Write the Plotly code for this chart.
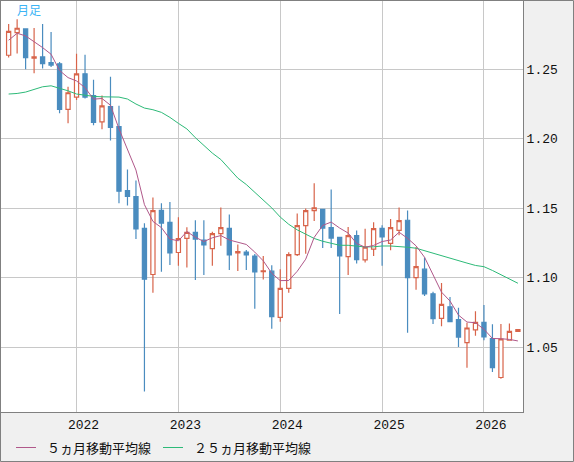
import plotly.graph_objects as go

# monthly candles, May 2021 - May 2026
months = [
    "2021/05", "2021/06", "2021/07", "2021/08", "2021/09", "2021/10", "2021/11", "2021/12",
    "2022/01", "2022/02", "2022/03", "2022/04", "2022/05", "2022/06", "2022/07", "2022/08",
    "2022/09", "2022/10", "2022/11", "2022/12",
    "2023/01", "2023/02", "2023/03", "2023/04", "2023/05", "2023/06", "2023/07", "2023/08",
    "2023/09", "2023/10", "2023/11", "2023/12",
    "2024/01", "2024/02", "2024/03", "2024/04", "2024/05", "2024/06", "2024/07", "2024/08",
    "2024/09", "2024/10", "2024/11", "2024/12",
    "2025/01", "2025/02", "2025/03", "2025/04", "2025/05", "2025/06", "2025/07", "2025/08",
    "2025/09", "2025/10", "2025/11", "2025/12",
    "2026/01", "2026/02", "2026/03", "2026/04", "2026/05",
]

opens = [
    1.2600, 1.2762, 1.2789, 1.2579, 1.2588, 1.2547, 1.2538, 1.2210,
    1.2299, 1.2466, 1.2309, 1.2120, 1.2230, 1.2086, 1.1627, 1.1584,
    1.1355, 1.1023, 1.1484, 1.1398,
    1.1181, 1.1283, 1.1326, 1.1271, 1.1209, 1.1317, 1.1355, 1.1178,
    1.1184, 1.1156, 1.1043, 1.1047,
    1.0715, 1.0923, 1.1166, 1.1374, 1.1482, 1.1491, 1.1360, 1.1290,
    1.1152, 1.1303, 1.1128, 1.1205,
    1.1355, 1.1247, 1.1340, 1.1413, 1.1001, 1.1061, 1.0884, 1.0708,
    1.0791, 1.0698, 1.0533, 1.0624,
    1.0679, 1.0562, 1.0282, 1.0550, 1.0614,
]
highs = [
    1.2825, 1.2859, 1.2792, 1.2796, 1.2825, 1.2767, 1.2552, 1.2373,
    1.2610, 1.2603, 1.2423, 1.2311, 1.2445, 1.2237, 1.1778, 1.1699,
    1.1391, 1.1577, 1.1535, 1.1544,
    1.1434, 1.1362, 1.1413, 1.1413, 1.1331, 1.1505, 1.1455, 1.1239,
    1.1199, 1.1171, 1.1156, 1.1090,
    1.1061, 1.1183, 1.1462, 1.1498, 1.1680, 1.1496, 1.1635, 1.1292,
    1.1364, 1.1339, 1.1352, 1.1398,
    1.1377, 1.1422, 1.1505, 1.1484, 1.1220, 1.1145, 1.0898, 1.0961,
    1.0861, 1.0784, 1.0676, 1.0758,
    1.0804, 1.0665, 1.0667, 1.0671, 1.0627,
]
lows = [
    1.2583, 1.2612, 1.2500, 1.2471, 1.2504, 1.2516, 1.2182, 1.2110,
    1.2278, 1.2289, 1.2096, 1.2067, 1.1986, 1.1536, 1.1520, 1.1278,
    1.0181, 1.0891, 1.1042, 1.1092,
    1.1085, 1.1073, 1.0984, 1.1020, 1.1085, 1.1229, 1.1056, 1.1049,
    1.1056, 1.0776, 1.0987, 1.0633,
    1.0683, 1.0891, 1.1156, 1.1173, 1.1407, 1.1214, 1.1214, 1.0739,
    1.1020, 1.1102, 1.1109, 1.1156,
    1.1085, 1.1198, 1.1305, 1.0604, 1.0913, 1.0869, 1.0667, 1.0651,
    1.0680, 1.0501, 1.0353, 1.0583,
    1.0550, 1.0322, 1.0274, 1.0548, 1.0614,
]
closes = [
    1.2772, 1.2794, 1.2583, 1.2588, 1.2540, 1.2529, 1.2210, 1.2330,
    1.2466, 1.2299, 1.2117, 1.2235, 1.2081, 1.1622, 1.1584, 1.1350,
    1.0989, 1.1482, 1.1393, 1.1178,
    1.1281, 1.1326, 1.1278, 1.1235, 1.1317, 1.1360, 1.1164, 1.1188,
    1.1164, 1.1042, 1.1049, 1.0719,
    1.0923, 1.1166, 1.1374, 1.1482, 1.1503, 1.1357, 1.1285, 1.1156,
    1.1303, 1.1130, 1.1219, 1.1353,
    1.1293, 1.1360, 1.1410, 1.1001, 1.1080, 1.0884, 1.0705, 1.0808,
    1.0683, 1.0573, 1.0638, 1.0679,
    1.0574, 1.0353, 1.0559, 1.0614, 1.0627,
]

# moving averages
ma5 = [
    1.2708, 1.2758, 1.2739, 1.2698, 1.2655, 1.2607, 1.2490, 1.2439,
    1.2415, 1.2367, 1.2284, 1.2289, 1.2240, 1.2071, 1.1928, 1.1774,
    1.1525, 1.1405, 1.1360, 1.1278,
    1.1265, 1.1332, 1.1291, 1.1260, 1.1287, 1.1303, 1.1271, 1.1253,
    1.1239, 1.1184, 1.1121, 1.1032,
    1.0979, 1.0980, 1.1046, 1.1133, 1.1290, 1.1376, 1.1400, 1.1357,
    1.1321, 1.1246, 1.1219, 1.1232,
    1.1260, 1.1271, 1.1327, 1.1283, 1.1229, 1.1147, 1.1016, 1.0896,
    1.0832, 1.0731, 1.0681, 1.0676,
    1.0629, 1.0563, 1.0561, 1.0556, 1.0545,
]
ma25 = [
    1.2321, 1.2325, 1.2335, 1.2354, 1.2373, 1.2380, 1.2364, 1.2344,
    1.2321, 1.2311, 1.2304, 1.2301, 1.2301, 1.2299, 1.2285, 1.2249,
    1.2220, 1.2208, 1.2189, 1.2153,
    1.2110, 1.2070, 1.2007, 1.1950, 1.1896, 1.1850, 1.1785, 1.1716,
    1.1670, 1.1613, 1.1552, 1.1502,
    1.1436, 1.1384, 1.1344, 1.1312, 1.1282, 1.1262, 1.1249, 1.1233,
    1.1233, 1.1226, 1.1221, 1.1222,
    1.1228, 1.1228, 1.1226, 1.1219, 1.1212, 1.1194, 1.1172, 1.1154,
    1.1138, 1.1122, 1.1105, 1.1088,
    1.1079, 1.1052, 1.1022, 1.0989, 1.0960,
]

year_ticks = ["2022/01", "2023/01", "2024/01", "2025/01", "2026/01"]
year_labels = ["2022", "2023", "2024", "2025", "2026"]
price_ticks = [1.05, 1.10, 1.15, 1.20, 1.25]
price_labels = ["1.05", "1.10", "1.15", "1.20", "1.25"]

RED = "#d8644a"
BLUE = "#4a8cbf"
MAUVE = "#b0588a"
GREEN = "#2dba78"
GRID = "#c8c8c8"
FRAME = "#808080"
MONO = "Liberation Mono, DejaVu Sans Mono, monospace"
JP = "Noto Sans CJK JP, sans-serif"

fig = go.Figure()

fig.add_trace(go.Candlestick(
    x=months, open=opens, high=highs, low=lows, close=closes,
    increasing=dict(line=dict(color=RED, width=1.2), fillcolor="white"),
    decreasing=dict(line=dict(color=BLUE, width=1.2), fillcolor=BLUE),
    whiskerwidth=0,
    showlegend=False,
    hoverinfo="x+y",
))
fig.add_trace(go.Scatter(
    x=months, y=ma25, mode="lines", name="２５ヵ月移動平均線",
    line=dict(color=GREEN, width=1), showlegend=False,
))
fig.add_trace(go.Scatter(
    x=months, y=ma5, mode="lines", name="５ヵ月移動平均線",
    line=dict(color=MAUVE, width=1), showlegend=False,
))

# plot area spans pixels x 1..523, y 1..412
def px_x(p):
    return (p - 1) / 522.0

def px_y(p):
    return (412 - p) / 411.0

shapes = [
    # outer frame of the whole picture
    dict(type="rect", xref="paper", yref="paper",
         x0=px_x(0.5), x1=px_x(573.5), y0=px_y(461.5), y1=px_y(0.5),
         line=dict(color=FRAME, width=1), layer="above"),
    # hand-made legend samples
    dict(type="line", xref="paper", yref="paper",
         x0=px_x(16), x1=px_x(36), y0=px_y(447.5), y1=px_y(447.5),
         line=dict(color=MAUVE, width=1)),
    dict(type="line", xref="paper", yref="paper",
         x0=px_x(163), x1=px_x(183), y0=px_y(447.5), y1=px_y(447.5),
         line=dict(color=GREEN, width=1)),
]

annotations = [
    dict(text="月足", xref="paper", yref="paper", x=px_x(15), y=px_y(10),
         xanchor="left", yanchor="middle", showarrow=False,
         font=dict(family=JP, size=12, color="#3cb4f5")),
    dict(text="５ヵ月移動平均線", xref="paper", yref="paper", x=px_x(45), y=px_y(448),
         xanchor="left", yanchor="middle", showarrow=False,
         font=dict(family=JP, size=13, color="#111111")),
    dict(text="２５ヵ月移動平均線", xref="paper", yref="paper", x=px_x(192), y=px_y(448),
         xanchor="left", yanchor="middle", showarrow=False,
         font=dict(family=JP, size=13, color="#111111")),
]

fig.update_layout(
    width=574, height=462,
    margin=dict(l=1, r=51, t=1, b=50, pad=0),
    paper_bgcolor="#f0f0f0",
    plot_bgcolor="white",
    showlegend=False,
    shapes=shapes,
    annotations=annotations,
    xaxis=dict(
        type="category",
        range=[-0.9, 60.6],
        tickvals=year_ticks, ticktext=year_labels,
        ticks="", ticklabelshift=7,
        showgrid=True, gridcolor=GRID, gridwidth=1,
        showline=True, linecolor=FRAME, linewidth=1, mirror=True,
        tickfont=dict(family=MONO, size=13, color="#111111"),
        rangeslider=dict(visible=False),
        fixedrange=True,
    ),
    yaxis=dict(
        side="right",
        range=[1.0034, 1.2990],
        tickvals=price_ticks, ticktext=price_labels,
        ticks="",
        showgrid=True, gridcolor=GRID, gridwidth=1,
        zeroline=False,
        showline=True, linecolor=FRAME, linewidth=1, mirror=True,
        tickfont=dict(family=MONO, size=13, color="#111111"),
        fixedrange=True,
    ),
)

# drop the page's default body margin so the chart sits at the window corner
fig.write_html(
    "out.html",
    config={"displayModeBar": False},
    post_script="document.body.style.margin='0';",
)
